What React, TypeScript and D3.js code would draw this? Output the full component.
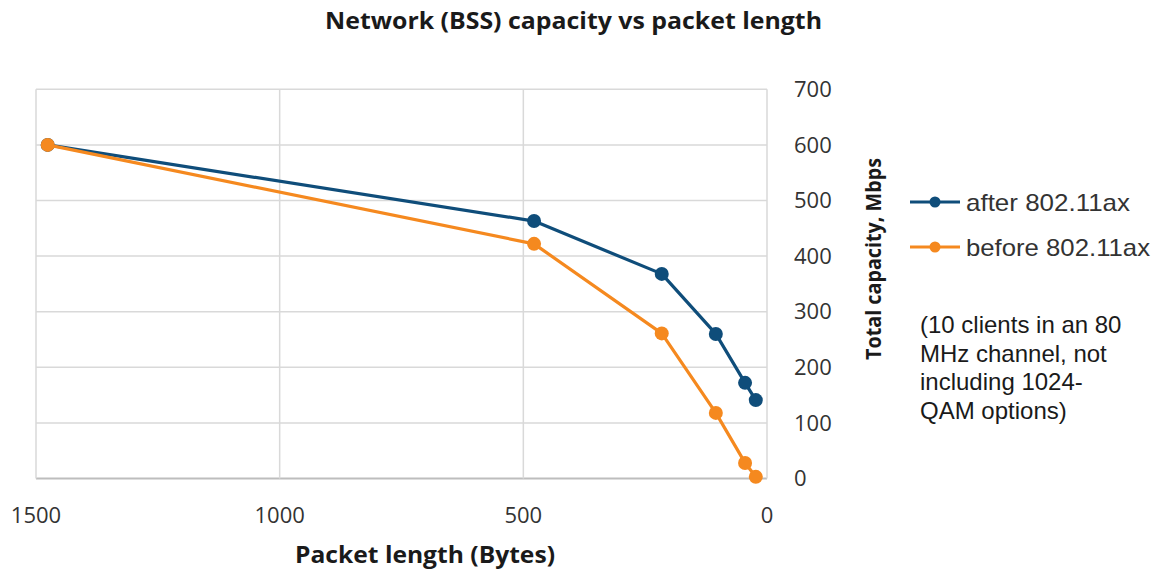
import React from "react";
import * as d3 from "d3";

const packetLength = [1476, 478, 216, 105, 45, 23];
const afterAx = [600, 463, 368, 260, 172, 141];
const beforeAx = [600, 422, 261, 118, 28, 3];
const xTicks = [1500, 1000, 500, 0];
const yTicks = [0, 100, 200, 300, 400, 500, 600, 700];
const seriesNames = ["after 802.11ax", "before 802.11ax"];
const noteLines = ["(10 clients in an 80", "MHz channel, not", "including 1024-", "QAM options)"];

const BLUE = "#0f4d7a";
const ORANGE = "#f5891f";

export default function App() {
  const W = 1158, H = 571;
  const x = d3.scaleLinear().domain([1500, 0]).range([36, 767]);
  const y = d3.scaleLinear().domain([0, 700]).range([478.5, 89.3]);
  const line = d3
    .line<[number, number]>()
    .x((d) => x(d[0]))
    .y((d) => y(d[1]));
  const series = [
    { name: seriesNames[0], vals: afterAx, color: BLUE },
    { name: seriesNames[1], vals: beforeAx, color: ORANGE },
  ];
  const sans = "'Open Sans', 'Noto Sans', sans-serif";
  const arial = "'Liberation Sans', Arial, sans-serif";
  return (
    <svg
      width={W}
      height={H}
      style={{ position: "fixed", left: 0, top: 0, background: "#fff" }}
    >
      <rect width={W} height={H} fill="#fff" />
      {yTicks.map((t) => (
        <line key={"gy" + t} x1={x(1500)} x2={x(0)} y1={y(t)} y2={y(t)}
          stroke={t === 0 ? "#bdbdbd" : "#d9d9d9"} strokeWidth={t === 0 ? 2 : 1.5} />
      ))}
      {xTicks.map((t) => (
        <line key={"gx" + t} x1={x(t)} x2={x(t)} y1={y(700)} y2={y(0)}
          stroke="#d9d9d9" strokeWidth={1.5} />
      ))}
      {series.map((s) => {
        const pts = packetLength.map((p, i) => [p, s.vals[i]] as [number, number]);
        return (
          <g key={s.name}>
            <path d={line(pts) || ""} fill="none" stroke={s.color} strokeWidth={3.2} strokeLinejoin="round" />
            {pts.map((p, i) => (
              <circle key={i} cx={x(p[0])} cy={y(p[1])} r={7} fill={s.color} />
            ))}
          </g>
        );
      })}
      {yTicks.map((t) => (
        <text key={"ly" + t} x={794} y={y(t)} dy="0.35em" fontFamily={sans} fontSize={22} fill="#333">
          {t}
        </text>
      ))}
      {xTicks.map((t) => (
        <text key={"lx" + t} x={x(t)} y={523} textAnchor="middle" fontFamily={sans} fontSize={22} fill="#333">
          {t}
        </text>
      ))}
      <text x={573.5} y={29} textAnchor="middle" fontFamily={sans} fontWeight="bold" fontSize={23}
        fill="#1a1a1a" textLength={497} lengthAdjust="spacingAndGlyphs">
        Network (BSS) capacity vs packet length
      </text>
      <text x={425} y={563} textAnchor="middle" fontFamily={sans} fontWeight="bold" fontSize={23}
        fill="#1a1a1a" textLength={260} lengthAdjust="spacingAndGlyphs">
        Packet length (Bytes)
      </text>
      <text transform="translate(881,259) rotate(-90)" textAnchor="middle" fontFamily={sans}
        fontWeight="bold" fontSize={22} fill="#1a1a1a" textLength={202} lengthAdjust="spacingAndGlyphs">
        Total capacity, Mbps
      </text>
      {series.map((s, i) => {
        const ly = 202 + i * 45;
        return (
          <g key={"lg" + s.name}>
            <line x1={910} x2={960} y1={ly} y2={ly} stroke={s.color} strokeWidth={3} />
            <circle cx={935} cy={ly} r={5.5} fill={s.color} />
            <text x={966} y={ly + 8.5} fontFamily={arial} fontSize={24} fill="#333"
              textLength={i === 0 ? 164 : 184} lengthAdjust="spacingAndGlyphs">
              {s.name}
            </text>
          </g>
        );
      })}
      {noteLines.map((l, i) => (
        <text key={"n" + i} x={920} y={333 + i * 28.7} fontFamily={arial} fontSize={24} fill="#1a1a1a">
          {l}
        </text>
      ))}
    </svg>
  );
}
